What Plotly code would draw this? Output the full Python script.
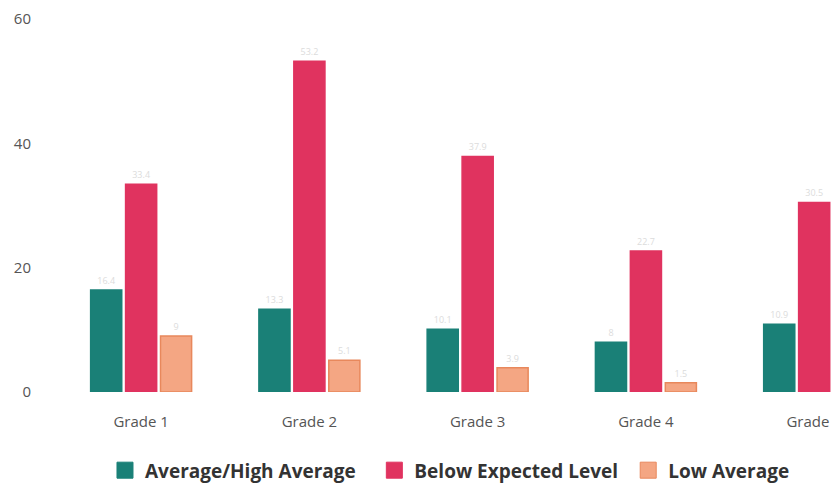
import plotly.graph_objects as go

categories = ["Grade 1", "Grade 2", "Grade 3", "Grade 4", "Grade 5"]
avg_high = [16.4, 13.3, 10.1, 8.0, 10.9]
below_expected = [33.4, 53.2, 37.9, 22.7, 30.5]
low_average = [9.0, 5.1, 3.9, 1.5, 2.5]
series_names = ["Average/High Average", "Below Expected Level", "Low Average"]
y_ticks = [0, 20, 40, 60]

colors = ["#1a8077", "#e0335f", "#f4a683"]
borders = ["#1a8077", "#e0335f", "#e8885c"]
legend_ids = ["legend", "legend2", "legend3"]
legend_x = [0.062, 0.410, 0.738]

fig = go.Figure()
for name, vals, c, b, lid in zip(series_names, [avg_high, below_expected, low_average], colors, borders, legend_ids):
    fig.add_trace(go.Bar(
        x=categories, y=vals, name=name, showlegend=False,
        marker=dict(color=c, line=dict(color=b, width=1.5)),
        text=[f"{v:g}" for v in vals], textposition="outside",
        textfont=dict(size=9, color="#dcdcdc"), cliponaxis=True,
    ))
    fig.add_trace(go.Scatter(
        x=[None], y=[None], mode="markers", name=name, legend=lid,
        marker=dict(symbol="square", size=20, color=c, line=dict(color=b, width=1)),
    ))

legend_style = dict(
    orientation="h", y=-0.21, yanchor="middle", xanchor="left",
    font=dict(size=19, color="#333", family="Open Sans", weight="bold"),
    itemwidth=30, bgcolor="rgba(0,0,0,0)",
)

fig.update_layout(
    width=831, height=489,
    margin=dict(l=57, r=0, t=19, b=97, autoexpand=False),
    paper_bgcolor="white", plot_bgcolor="white",
    barmode="group", bargap=0.377, bargroupgap=0.11,
    font=dict(family="Open Sans", color="#555"),
    showlegend=True,
    legend=dict(x=legend_x[0], **legend_style),
    legend2=dict(x=legend_x[1], **legend_style),
    legend3=dict(x=legend_x[2], **legend_style),
    uniformtext=dict(minsize=8, mode="show"),
)
fig.update_xaxes(
    range=[-0.5, 4.1], showgrid=False, showline=False, zeroline=False,
    tickfont=dict(size=15, color="#555"), ticks="outside", ticklen=16,
    tickcolor="rgba(0,0,0,0)",
)
fig.update_yaxes(
    range=[0, 60], tickvals=y_ticks, showgrid=False, zeroline=False, showline=False,
    tickfont=dict(size=15, color="#555"), ticks="outside", ticklen=22,
    tickcolor="rgba(0,0,0,0)",
)

fig.write_html("out.html")
